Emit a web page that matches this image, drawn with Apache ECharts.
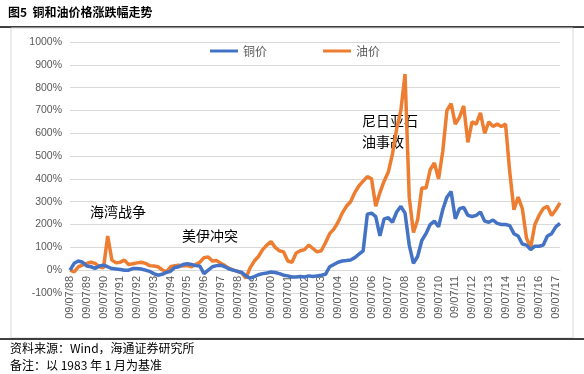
<!DOCTYPE html>
<html><head><meta charset="utf-8">
<script src="https://cdn.jsdelivr.net/npm/echarts@6/dist/echarts.min.js"></script>
<style>html,body{margin:0;padding:0;background:#fff}#c{width:584px;height:374px}</style>
</head><body><div id="c"></div>
<script>
// tick labels (one every 4 points) and quarterly-ish sample labels
var yearLabels = ["88","89","90","91","92","93","94","95","96","97","98","99","00","01","02","03","04","05","06","07","08","09","10","11","12","13","14","15","16","17"];
var yTicks = [-100,0,100,200,300,400,500,600,700,800,900,1000];
var copper = [0,30,40,35,18,15,8,18,22,15,7,5,3,0,0,7,7,5,0,-5,-15,-22,-18,-10,-5,12,15,25,28,25,20,18,-15,0,15,20,22,15,5,0,-5,-10,-25,-35,-28,-20,-15,-12,-8,-10,-15,-22,-25,-30,-30,-28,-30,-25,-28,-25,-22,-18,15,25,35,40,42,45,55,70,85,245,250,235,150,225,230,210,255,280,250,110,30,60,130,160,200,215,190,265,320,345,225,270,275,240,235,240,255,215,210,220,205,200,200,195,160,150,115,110,90,105,105,110,150,160,190,205];
var oil = [0,-7,15,22,30,35,30,15,10,150,44,32,35,44,25,28,32,35,30,20,18,15,2,-7,15,20,22,18,20,15,25,35,55,58,40,42,30,20,8,0,-5,-12,-35,10,40,60,90,110,125,100,85,80,40,35,75,85,90,110,95,80,85,120,160,180,210,250,280,300,340,370,390,410,400,280,340,390,430,510,620,700,860,320,165,220,360,360,440,470,400,520,700,730,640,670,720,560,650,640,690,600,650,630,640,630,640,430,265,320,270,140,100,200,240,270,280,240,265,295];
var seriesNames = ["铜价","油价"];

var cats = [];
for (var i = 0; i < copper.length; i++) {
  cats.push(i % 4 === 0 ? "09/07/" + yearLabels[i/4] : "p" + i);
}
var chart = echarts.init(document.getElementById('c'), null, {renderer:'canvas'});
var gray = '#595959';
chart.setOption({
  animation:false,
  textStyle:{fontFamily:'"Noto Sans CJK SC","Liberation Sans",sans-serif'},
  grid:{left:70,right:24,top:42,bottom:81,containLabel:false},
  legend:{
    data:seriesNames, top:40, left:205, itemGap:56, itemWidth:28, itemHeight:3,
    icon:'rect', textStyle:{color:gray,fontSize:12}
  },
  xAxis:{
    type:'category', data:cats, boundaryGap:false,
    offset:-23,
    axisLine:{onZero:false, lineStyle:{color:'#d9d9d9'}},
    axisTick:{show:false},
    axisLabel:{
      rotate:90, color:gray, fontSize:11, fontFamily:'"Liberation Sans",Arial,sans-serif',
      interval:function(idx){return idx % 4 === 0;}, margin:6
    },
    splitLine:{show:false}
  },
  yAxis:{
    type:'value', min:yTicks[0], max:yTicks[yTicks.length-1], interval:100,
    axisLine:{show:false}, axisTick:{show:false},
    axisLabel:{color:gray, fontSize:10.5, fontFamily:'"Liberation Sans",Arial,sans-serif', formatter:function(v){return v + '%';}, margin:8},
    splitLine:{lineStyle:{color:'#d9d9d9'}}
  },
  series:[
    {name:seriesNames[0], type:'line', data:copper, symbol:'none', lineStyle:{color:'#4472C4',width:3.5}, itemStyle:{color:'#4472C4'}, z:3},
    {name:seriesNames[1], type:'line', data:oil, symbol:'none', lineStyle:{color:'#ED7D31',width:3.5}, itemStyle:{color:'#ED7D31'}, z:2}
  ],
  graphic:[
    {type:'text', left:8, top:6, style:{text:'图5  铜和油价格涨跌幅走势', fill:'#000', font:'bold 12px "Noto Sans CJK SC"'}},
    {type:'line', shape:{x1:0,y1:27,x2:584,y2:27}, style:{stroke:'#000',lineWidth:1.5}},
    {type:'rect', shape:{x:11,y:28,width:562,height:310}, style:{fill:'none',stroke:'#d9d9d9',lineWidth:1}},
    {type:'line', shape:{x1:0,y1:339,x2:584,y2:339}, style:{stroke:'#000',lineWidth:1.5}},
    {type:'text', left:10, top:342, style:{text:'资料来源：Wind，海通证券研究所', fill:'#000', font:'12px "Noto Sans CJK SC"'}},
    {type:'text', left:10, top:359, style:{text:'备注：以 1983 年 1 月为基准', fill:'#000', font:'12px "Noto Sans CJK SC"'}},
    {type:'text', left:90, top:205, style:{text:'海湾战争', fill:'#000', font:'14px "Noto Sans CJK SC"'}},
    {type:'text', left:182, top:229, style:{text:'美伊冲突', fill:'#000', font:'14px "Noto Sans CJK SC"'}},
    {type:'text', left:362, top:110, style:{text:'尼日亚石\n油事故', fill:'#000', font:'14px "Noto Sans CJK SC"', lineHeight:21}}
  ]
});
</script></body></html>
